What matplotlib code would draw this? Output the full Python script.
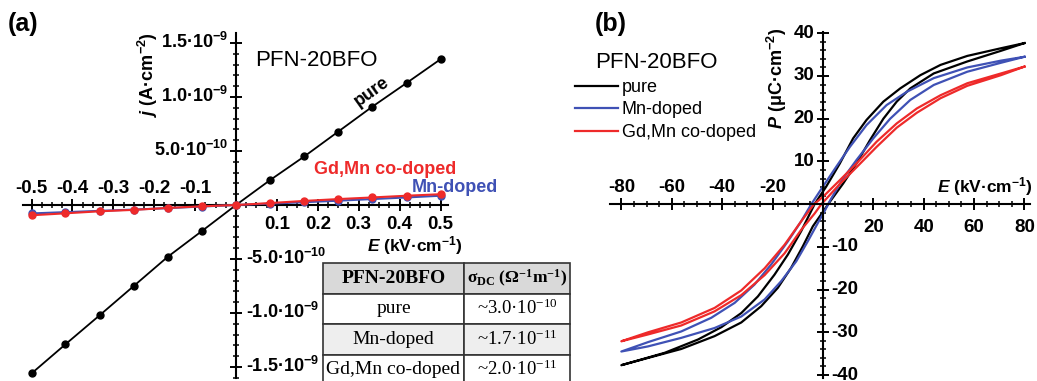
import numpy as np
import matplotlib
matplotlib.use("Agg")
import matplotlib.pyplot as plt
from matplotlib.ticker import MultipleLocator

plt.rcParams['font.family'] = ['Liberation Sans', 'DejaVu Sans']
plt.rcParams['mathtext.default'] = 'regular'
plt.rcParams['mathtext.fontset'] = 'custom'
plt.rcParams['mathtext.it'] = 'Liberation Sans:italic:bold'

# ---- panel (a): j-E data ----
E_a = [-0.5, -0.417, -0.333, -0.25, -0.167, -0.083, 0, 0.083, 0.167, 0.25, 0.333, 0.417, 0.5]
j_pure = [-1.56, -1.29, -1.02, -0.75, -0.48, -0.24, 0, 0.23, 0.45, 0.68, 0.91, 1.13, 1.35]
j_mn = [-0.078, -0.066, -0.054, -0.042, -0.029, -0.014, 0, 0.013, 0.026, 0.04, 0.055, 0.07, 0.086]
j_gdmn = [-0.095, -0.077, -0.058, -0.045, -0.027, -0.012, 0, 0.018, 0.038, 0.055, 0.07, 0.086, 0.10]
xt_a = [-0.5, -0.4, -0.3, -0.2, -0.1, 0.1, 0.2, 0.3, 0.4, 0.5]
yt_a = [1.5e-9, 1.0e-9, 5e-10, -5e-10, -1.0e-9, -1.5e-9]
yt_a_lbl = ['1.5·10$^{-9}$', '1.0·10$^{-9}$', '5.0·10$^{-10}$',
            '-5.0·10$^{-10}$', '-1.0·10$^{-9}$', '-1.5·10$^{-9}$']

tbl_head = ['PFN-20BFO', 'σ$_{DC}$ (Ω$^{-1}$m$^{-1}$)']
tbl_rows = [['pure', '~3.0·10$^{-10}$'],
            ['Mn-doped', '~1.7·10$^{-11}$'],
            ['Gd,Mn co-doped', '~2.0·10$^{-11}$']]

# ---- panel (b): P-E loops (upper branch: +E -> -E, lower branch: -E -> +E) ----
E_pure_up = [80, 70.7, 57.3, 46.7, 38.7, 30.7, 24, 17.3, 12, 6.7, 1.3, -3.3, -8.6, -13.9,
             -19.2, -25.8, -32.4, -40.3, -49.6, -62.8, -80]
P_pure_up = [37.7, 36.5, 34.7, 32.6, 30.2, 27.1, 24, 19.7, 15.4, 9.5, 4.1, 0, -6.3, -11.8,
             -16.5, -21.6, -25.5, -28.8, -31.7, -34.8, -37.7]
E_pure_lo = [-80, -69.4, -56.2, -43, -32.4, -24.5, -17.9, -12.6, -7.9, -4, -0.7, 2.7, 8,
             13.3, 18.7, 24, 29.3, 34.7, 44, 57.3, 70.7, 80]
P_pure_lo = [-37.7, -36, -33.9, -30.9, -27.7, -23.9, -19.6, -14.9, -9.8, -5.2, -2.4, 0.5, 4.8,
             9.5, 15, 20, 24, 27.1, 30.6, 33.4, 35.9, 37.7]

E_mn_up = [80, 70.7, 57.3, 44, 33.3, 25.3, 17.3, 10.7, 5.3, 0, -4.6, -8.6, -13.9, -20.5,
           -27.1, -35, -44.3, -56.2, -69.4, -80]
P_mn_up = [34.5, 33.6, 32, 29.5, 26.3, 23.2, 18.5, 13.4, 8.75, 4.1, 0, -4, -8.7, -14.1,
           -18.8, -23.1, -26.6, -29.8, -32.3, -34.5]
E_mn_lo = [-80, -69.4, -56.2, -43, -32.4, -23.1, -16.5, -10.6, -6, -2, 0.7, 3, 8, 13.3,
           20, 26.7, 34.7, 44, 57.3, 70.7, 80]
P_mn_lo = [-34.5, -33.3, -31.3, -29, -26.3, -22.3, -18, -13.4, -8.7, -4.4, -1.6, 1.0, 6, 10.3,
           15.4, 20, 24.4, 27.9, 31, 33.1, 34.5]

E_gd_up = [80, 70.7, 57.3, 46.7, 37.3, 29.3, 21.3, 13.3, 6.7, 0, -3.5, -8.6, -15.2, -23.1,
           -32.4, -43, -56.2, -69.4, -80]
P_gd_up = [32.2, 30.6, 28.3, 25.5, 22.4, 18.9, 14.6, 9.5, 5.6, 1.7, 0, -4.0, -9.5, -15.0,
           -20.2, -24.3, -27.7, -30, -32.1]
E_gd_lo = [-80, -69.4, -56.2, -43, -32.4, -23.1, -15.2, -8.6, -3.3, -0.6, 6.7, 13.3, 21.3,
           29.3, 37.3, 46.7, 57.3, 70.7, 80]
P_gd_lo = [-32.1, -30.5, -28.4, -25.1, -21.3, -16.6, -11.5, -6.0, -2.2, 0, 4.7, 8.6, 13.4,
           17.9, 21.4, 24.8, 27.7, 30.2, 32.2]

xt_b = [-80, -60, -40, -20, 20, 40, 60, 80]
yt_b = [40, 30, 20, 10, -10, -20, -30, -40]

BLUE = '#3f51b5'
RED = '#ee2a2a'
W, H = 1037, 381
TICK_FS = 13.5


def box(l, t, r, b):
    return [l / W, 1 - b / H, (r - l) / W, (b - t) / H]


def cross_axes(ax, lw=1.5):
    for s in ['top', 'right']:
        ax.spines[s].set_visible(False)
    for s in ['left', 'bottom']:
        ax.spines[s].set_position(('data', 0))
        ax.spines[s].set_linewidth(lw)
    ax.tick_params(which='major', direction='inout', length=9, width=1.4,
                   labelbottom=False, labelleft=False)
    ax.tick_params(which='minor', direction='inout', length=5, width=1.1)
    ax.patch.set_visible(False)


fig = plt.figure(figsize=(W / 100, H / 100), dpi=100)

# ================= (a) =================
ax = fig.add_axes(box(23, 33, 448, 378))
ax.set_xlim(-0.5208, 0.5183)
ax.set_ylim(-1.602e-9, 1.593e-9)
cross_axes(ax)
ax.set_xticks(xt_a)
ax.xaxis.set_minor_locator(MultipleLocator(0.025))
ax.set_yticks(yt_a)
ax.yaxis.set_minor_locator(MultipleLocator(1e-10))

ja = np.array(j_pure) * 1e-9
ax.plot(E_a, ja, '-o', color='black', lw=1.3, ms=5, clip_on=False, zorder=3)
ax.plot(E_a, np.array(j_mn) * 1e-9, '-o', color=BLUE, lw=1.5, ms=5, clip_on=False, zorder=3)
ax.plot(E_a, np.array(j_gdmn) * 1e-9, '-o', color=RED, lw=1.5, ms=5, clip_on=False, zorder=4)

for v in xt_a:
    if v < 0:
        ax.annotate(f'{v:.1f}', (v, 0), xytext=(0, 6), textcoords='offset points',
                    ha='center', va='bottom', fontsize=TICK_FS, fontweight='bold')
    else:
        ax.annotate(f'{v:.1f}', (v, 0), xytext=(0, -8), textcoords='offset points',
                    ha='center', va='top', fontsize=TICK_FS, fontweight='bold')
for v, s in zip(yt_a, yt_a_lbl):
    if v > 0:
        ax.annotate(s, (0, v), xytext=(-6, 1), textcoords='offset points',
                    ha='right', va='center', fontsize=13, fontweight='bold')
    else:
        ax.annotate(s, (0, v), xytext=(7, 1), textcoords='offset points',
                    ha='left', va='center', fontsize=13, fontweight='bold')

fig.text(8 / W, 1 - 24 / H, '(a)', fontsize=18, fontweight='bold', va='center')
fig.text(255 / W, 1 - 60 / H, 'PFN-20BFO', fontsize=16, va='center')
fig.text(148 / W, 1 - 75 / H, '$\\it{j}$ (A·cm$^{-2}$)', rotation=90, fontsize=13,
         fontweight='bold', ha='center', va='center')
fig.text(415 / W, 1 - 246 / H, '$\\it{E}$ (kV·cm$^{-1}$)', fontsize=12.5,
         fontweight='bold', ha='center', va='center')
ax.text(0.333, 1.05e-9, 'pure', rotation=35.5, fontsize=13, fontweight='bold',
        ha='center', va='center', rotation_mode='anchor')
ax.text(0.364, 0.33e-9, 'Gd,Mn co-doped', fontsize=13, fontweight='bold', color=RED,
        ha='center', va='center')
ax.text(0.535, 0.165e-9, 'Mn-doped', fontsize=13, fontweight='bold', color=BLUE,
        ha='center', va='center')

# table
tax = fig.add_axes(box(323, 263, 570, 385))
tax.axis('off')
tab = tax.table(cellText=tbl_rows, colLabels=tbl_head, bbox=[0, 0, 1, 1],
                cellLoc='center', colWidths=[141 / 247, 106 / 247])
tab.auto_set_font_size(False)
for (r, c), cell in tab.get_celld().items():
    cell.set_edgecolor('#333333')
    cell.set_linewidth(1.2)
    txt = cell.get_text()
    txt.set_fontfamily('Liberation Serif')
    txt.set_fontsize(14 if c == 0 else 13.5)
    if r == 0:
        cell.set_facecolor('#d9d9d9')
        txt.set_fontweight('bold')
        if c == 1:
            txt.set_fontsize(12.5)
    elif r == 2:
        cell.set_facecolor('#eeeeee')
    else:
        cell.set_facecolor('white')

# ================= (b) =================
bx = fig.add_axes(box(610, 32, 1030, 378))
bx.set_xlim(-84.5, 82.2)
bx.set_ylim(-40.7, 40.3)
cross_axes(bx)
bx.set_xticks(xt_b)
bx.xaxis.set_minor_locator(MultipleLocator(5))
bx.set_yticks(yt_b)
bx.yaxis.set_minor_locator(MultipleLocator(2))

bx.plot(E_pure_up + E_pure_lo, P_pure_up + P_pure_lo, color='black', lw=1.6, label='pure')
bx.plot(E_mn_up + E_mn_lo, P_mn_up + P_mn_lo, color=BLUE, lw=1.6, label='Mn-doped')
bx.plot(E_gd_up + E_gd_lo, P_gd_up + P_gd_lo, color=RED, lw=1.6, label='Gd,Mn co-doped')

for v in xt_b:
    if v < 0:
        bx.annotate(f'{v}', (v, 0), xytext=(0, 6), textcoords='offset points',
                    ha='center', va='bottom', fontsize=TICK_FS, fontweight='bold')
    else:
        bx.annotate(f'{v}', (v, 0), xytext=(0, -11), textcoords='offset points',
                    ha='center', va='top', fontsize=TICK_FS, fontweight='bold')
for v in yt_b:
    if v > 0:
        bx.annotate(f'{v}', (0, v), xytext=(-6, 0), textcoords='offset points',
                    ha='right', va='center', fontsize=TICK_FS, fontweight='bold')
    else:
        bx.annotate(f'{v}', (0, v), xytext=(6, 0), textcoords='offset points',
                    ha='left', va='center', fontsize=TICK_FS, fontweight='bold')

fig.text(595 / W, 1 - 24 / H, '(b)', fontsize=18, fontweight='bold', va='center')
fig.text(595 / W, 1 - 62 / H, 'PFN-20BFO', fontsize=16, va='center')
fig.text(777 / W, 1 - 78 / H, '$\\it{P}$ (μC·cm$^{-2}$)', rotation=90, fontsize=13,
         fontweight='bold', ha='center', va='center')
fig.text(1033 / W, 1 - 187 / H, '$\\it{E}$ (kV·cm$^{-1}$)', fontsize=12.5,
         fontweight='bold', ha='right', va='center')
fig.legend(loc='upper left', bbox_to_anchor=(575 / W, 1 - 79 / H), frameon=False,
           fontsize=13, handlelength=2.4, handletextpad=0.2, labelspacing=0.3,
           borderpad=0, borderaxespad=0)

fig.savefig('out.png', dpi=100)
